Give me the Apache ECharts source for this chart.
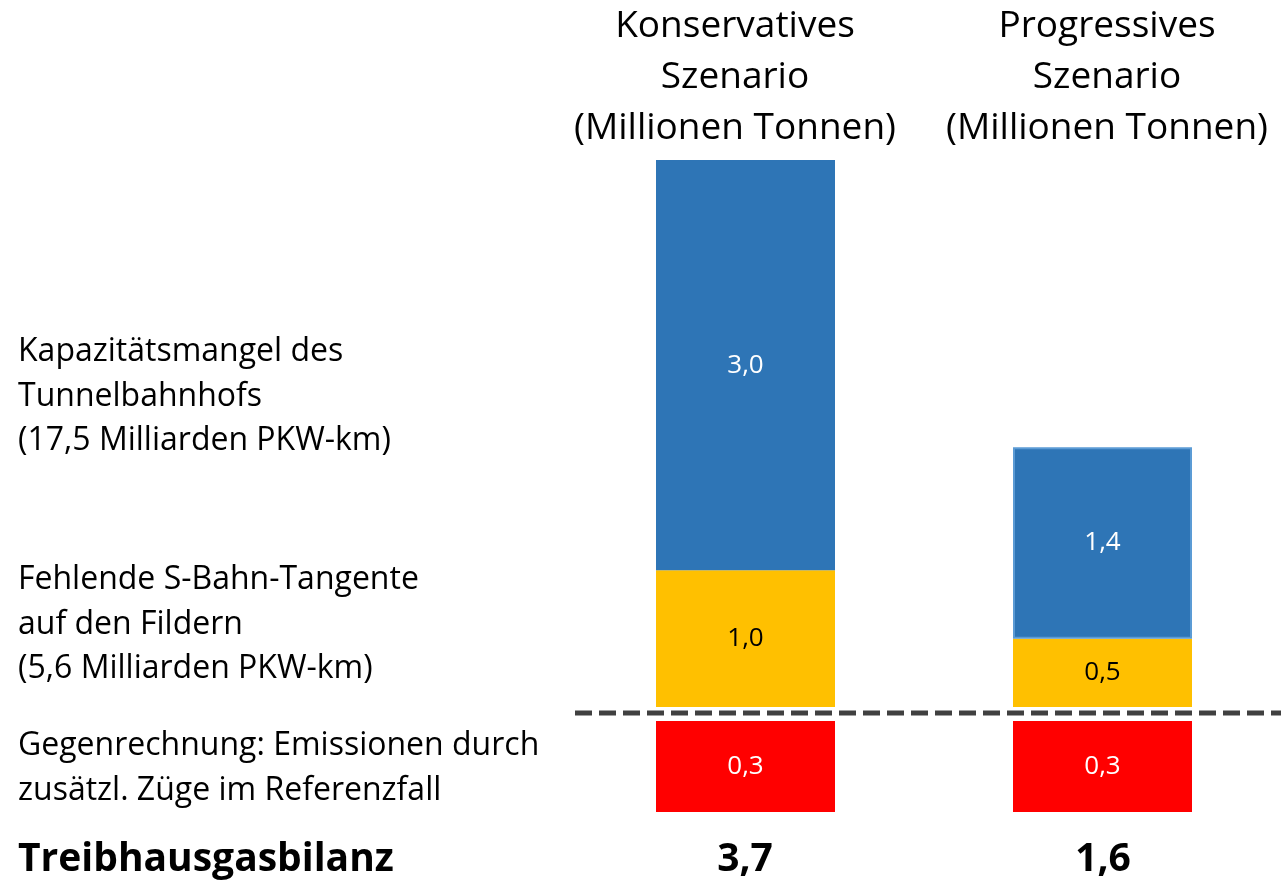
<!DOCTYPE html>
<html>
<head>
<meta charset="utf-8">
<script src="https://cdn.jsdelivr.net/npm/echarts@6/dist/echarts.min.js"></script>
<style>
  html, body { margin: 0; padding: 0; background: #fff; }
  #chart { width: 1281px; height: 886px; }
</style>
</head>
<body>
<div id="chart"></div>
<script>
// Daten
var szenarien = ['Konservatives\nSzenario\n(Millionen Tonnen)', 'Progressives\nSzenario\n(Millionen Tonnen)'];
var sBahn = [1.0, 0.5];        // Fehlende S-Bahn-Tangente
var kapazitaet = [3.0, 1.4];   // Kapazitätsmangel des Tunnelbahnhofs
var gegen = [-0.3, -0.3];      // Gegenrechnung
var zeilen = [
  'Kapazitätsmangel des\nTunnelbahnhofs\n(17,5 Milliarden PKW-km)',
  'Fehlende S-Bahn-Tangente\nauf den Fildern\n(5,6 Milliarden PKW-km)',
  'Gegenrechnung: Emissionen durch\nzusätzl. Züge im Referenzfall'
];
var bilanzTitel = 'Treibhausgasbilanz';

function fmt(v) { return Math.abs(v).toFixed(1).replace('.', ','); }

var myChart = echarts.init(document.getElementById('chart'));
var font = '"Open Sans", sans-serif';

var summen = szenarien.map(function(s, i) { return sBahn[i] + kapazitaet[i] + gegen[i]; });

function txt(x, y, text, f, align, lh) {
  return { type: 'text', x: x, y: y,
    style: { text: text, fill: '#000', font: f, align: align, textAlign: align, lineHeight: lh } };
}

var option = {
  backgroundColor: '#fff',
  animation: false,
  grid: [
    { left: 567, width: 715, top: 160, height: 547 },
    { left: 567, width: 715, top: 721, height: 91 }
  ],
  xAxis: [
    { type: 'category', gridIndex: 0, data: szenarien, show: false },
    { type: 'category', gridIndex: 1, data: szenarien, show: false }
  ],
  yAxis: [
    { type: 'value', gridIndex: 0, min: 0, max: 4, show: false },
    { type: 'value', gridIndex: 1, min: -0.3, max: 0, show: false }
  ],
  series: [
    {
      name: 'S-Bahn', type: 'bar', stack: 'a', barWidth: 179,
      xAxisIndex: 0, yAxisIndex: 0,
      data: sBahn,
      itemStyle: { color: '#FFC000' },
      label: { show: true, position: 'inside', color: '#000', fontFamily: font, fontSize: 26,
        formatter: function(p) { return fmt(p.value); } }
    },
    {
      name: 'Kapazität', type: 'bar', stack: 'a', barWidth: 179,
      xAxisIndex: 0, yAxisIndex: 0,
      data: kapazitaet.map(function(v, i) {
        return i === 1 ? { value: v, itemStyle: { borderColor: '#5B9BD5', borderWidth: 2 } } : v;
      }),
      itemStyle: { color: '#2E75B6' },
      label: { show: true, position: 'inside', color: '#fff', fontFamily: font, fontSize: 26,
        formatter: function(p) { return fmt(p.value); } }
    },
    {
      name: 'Gegenrechnung', type: 'bar', barWidth: 179,
      xAxisIndex: 1, yAxisIndex: 1,
      data: gegen,
      itemStyle: { color: '#FF0000' },
      label: { show: true, position: 'inside', color: '#fff', fontFamily: font, fontSize: 26,
        formatter: function(p) { return fmt(p.value); } }
    }
  ],
  graphic: [
    // Kopfzeilen
    txt(735, 1, szenarien[0], '37px ' + font, 'center', 51),
    txt(1107, 1, szenarien[1], '37px ' + font, 'center', 51),
    // Zeilenbeschriftungen
    txt(18, 330, zeilen[0], '32px ' + font, 'left', 44.5),
    txt(18, 558, zeilen[1], '32px ' + font, 'left', 44.5),
    txt(18, 724, zeilen[2], '32px ' + font, 'left', 44.5),
    // Bilanz
    txt(18, 839, bilanzTitel, 'bold 39px ' + font, 'left', 42),
    txt(745, 839, fmt(summen[0]), 'bold 39px ' + font, 'center', 42),
    txt(1103, 839, fmt(summen[1]), 'bold 39px ' + font, 'center', 42),
    // gestrichelte Linie
    { type: 'line', shape: { x1: 575, y1: 713, x2: 1281, y2: 713 },
      style: { stroke: '#404040', lineWidth: 5, lineDash: [17, 7] } }
  ]
};

myChart.setOption(option);
window.addEventListener('resize', function() { myChart.resize(); });
</script>
</body>
</html>
